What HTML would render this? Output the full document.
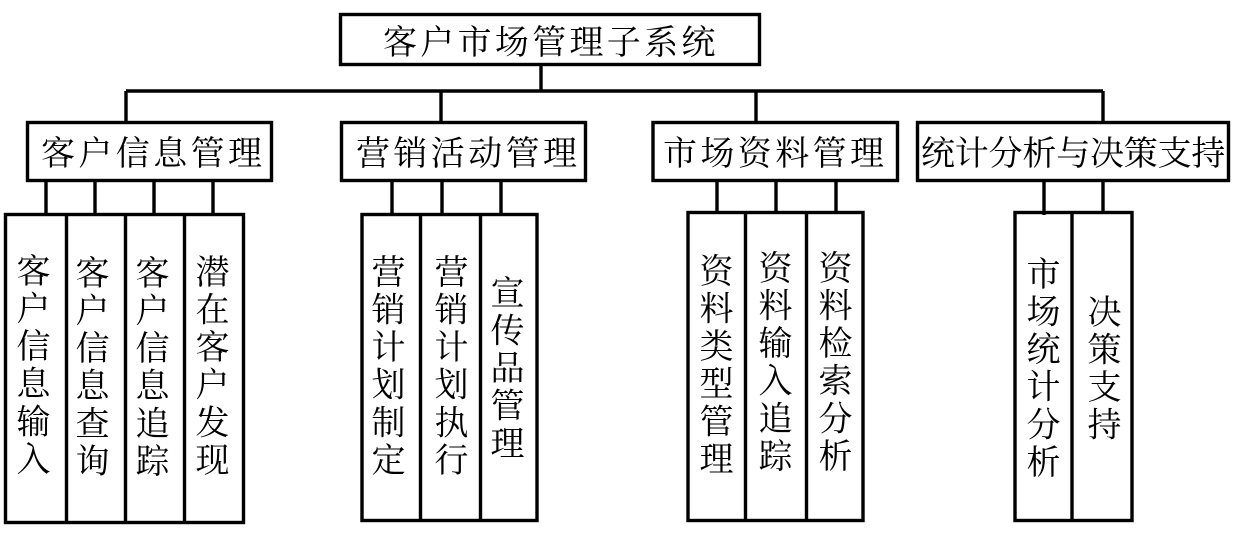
<!DOCTYPE html>
<html lang="zh">
<head>
<meta charset="utf-8">
<style>
html,body{margin:0;padding:0;background:#fff}
#c{position:relative;width:1242px;height:547px;overflow:hidden;background:#fff;font-family:"Noto Serif CJK SC","Liberation Serif",serif;font-weight:400;color:#000}
svg{position:absolute;left:0;top:0}
.h,.v{position:absolute;white-space:nowrap;line-height:1;font-size:34px}
.v{writing-mode:vertical-rl;text-orientation:upright;letter-spacing:3.6px;width:34px}
</style>
</head>
<body>
<div id="c">
<svg width="1242" height="547" viewBox="0 0 1242 547" fill="none" stroke="#000" stroke-width="3.4">
<rect x="340.5" y="14.5" width="419" height="50"/>
<path d="M541 65V91M126 91H1103M126 91V122M441 91V122M756 91V122M1103 91V122"/>
<rect x="27.5" y="122.5" width="244" height="58"/>
<rect x="341.5" y="122.5" width="244" height="58"/>
<rect x="653" y="122.5" width="244.5" height="58"/>
<rect x="917.5" y="122.5" width="311" height="58"/>
<path d="M46 181V214M95 181V214M154 181V214M213 181V214"/>
<path d="M392 181V214M442 181V214M501 181V214"/>
<path d="M717 181V212M776 181V212M836 181V212"/>
<path d="M1044 181V215M1103 181V212"/>
<rect x="5.5" y="214.5" width="238" height="308"/>
<path d="M66.5 214V522M125.5 214V522M184.5 214V522"/>
<rect x="362" y="214.5" width="175" height="306"/>
<path d="M420.5 214V520M480.5 214V520"/>
<rect x="688" y="212.5" width="175" height="308"/>
<path d="M745.5 212V520M806.5 212V520"/>
<rect x="1015" y="212.5" width="117" height="308"/>
<path d="M1072 212V520"/>
</svg>

<div class="h" style="left:383px;top:23px;letter-spacing:3.3px">客户市场管理子系统</div>
<div class="h" style="left:41px;top:134px;letter-spacing:3.4px">客户信息管理</div>
<div class="h" style="left:356px;top:134px;letter-spacing:3.4px">营销活动管理</div>
<div class="h" style="left:663px;top:134px;letter-spacing:3.4px">市场资料管理</div>
<div class="h" style="left:921px;top:134px;letter-spacing:-0.2px">统计分析与决策支持</div>

<div class="v" style="left:16px;top:253px">客户信息输入</div>
<div class="v" style="left:75px;top:255px">客户信息查询</div>
<div class="v" style="left:135px;top:255px">客户信息追踪</div>
<div class="v" style="left:195px;top:254px">潜在客户发现</div>
<div class="v" style="left:371px;top:254px">营销计划制定</div>
<div class="v" style="left:434px;top:254px">营销计划执行</div>
<div class="v" style="left:490px;top:275px">宣传品管理</div>
<div class="v" style="left:699px;top:253px">资料类型管理</div>
<div class="v" style="left:758px;top:250px">资料输入追踪</div>
<div class="v" style="left:818px;top:250px">资料检索分析</div>
<div class="v" style="left:1026px;top:256px">市场统计分析</div>
<div class="v" style="left:1087px;top:294px">决策支持</div>
</div>
</body>
</html>
